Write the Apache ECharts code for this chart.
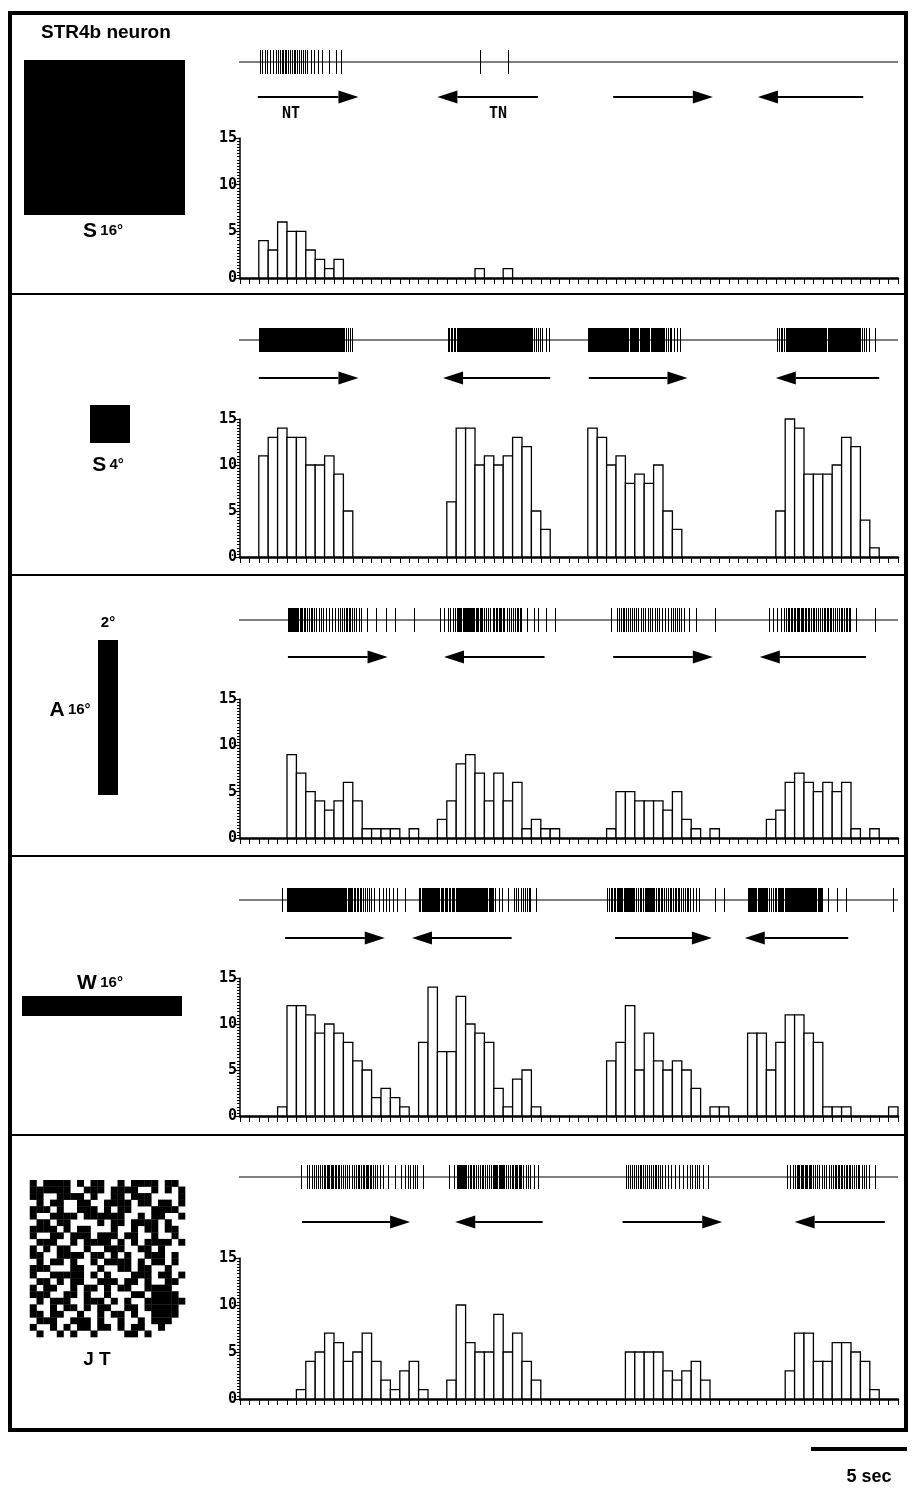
<!DOCTYPE html>
<html>
<head>
<meta charset="utf-8">
<script src="https://cdn.jsdelivr.net/npm/echarts/dist/echarts.min.js"></script>
<style>
  * { margin: 0; padding: 0; }
  body { background: #fff; }
  #main { width: 917px; height: 1488px; }
</style>
</head>
<body>
<div id="main"></div>
<script type="text/javascript">
// ---- data ----
var nBins = 70;   // PSTH bins over the whole sweep (0..69)

// spike counts per bin, one array per stimulus
var countsS16 = [
  0,0,4,3,6,5,5,3,2,1,
  2,0,0,0,0,0,0,0,0,0,
  0,0,0,0,0,1,0,0,1,0,
  0,0,0,0,0,0,0,0,0,0,
  0,0,0,0,0,0,0,0,0,0,
  0,0,0,0,0,0,0,0,0,0,
  0,0,0,0,0,0,0,0,0,0
];
var countsS4 = [
  0,0,11,13,14,13,13,10,10,11,
  9,5,0,0,0,0,0,0,0,0,
  0,0,6,14,14,10,11,10,11,13,
  12,5,3,0,0,0,0,14,13,10,
  11,8,9,8,10,5,3,0,0,0,
  0,0,0,0,0,0,0,5,15,14,
  9,9,9,10,13,12,4,1,0,0
];
var countsA16 = [
  0,0,0,0,0,9,7,5,4,3,
  4,6,4,1,1,1,1,0,1,0,
  0,2,4,8,9,7,4,7,4,6,
  1,2,1,1,0,0,0,0,0,1,
  5,5,4,4,4,3,5,2,1,0,
  1,0,0,0,0,0,2,3,6,7,
  6,5,6,5,6,1,0,1,0,0
];
var countsW16 = [
  0,0,0,0,1,12,12,11,9,10,
  9,8,6,5,2,3,2,1,0,8,
  14,7,7,13,10,9,8,3,1,4,
  5,1,0,0,0,0,0,0,0,6,
  8,12,5,9,6,5,6,5,3,0,
  1,1,0,0,9,9,5,8,11,11,
  9,8,1,1,1,0,0,0,0,1
];
var countsJT = [
  0,0,0,0,0,0,1,4,5,7,
  6,4,5,7,4,2,1,3,4,1,
  0,0,2,10,6,5,5,9,5,7,
  4,2,0,0,0,0,0,0,0,0,
  0,5,5,5,5,3,2,3,4,2,
  0,0,0,0,0,0,0,0,3,7,
  7,4,4,6,6,5,4,1,0,0
];

// stimulus sweeps [from bin, to bin] (arrow points toward "to")
var sweepsS16 = [[1.9, 12.6], [31.7, 21.0], [39.7, 50.3], [66.3, 55.1]];
var sweepsS4  = [[2.0, 12.6], [33.0, 21.6], [37.1, 47.6], [68.0, 57.0]];
var sweepsA16 = [[5.1, 15.7], [32.4, 21.7], [39.7, 50.3], [66.6, 55.3]];
var sweepsW16 = [[4.8, 15.4], [28.9, 18.3], [39.9, 50.2], [64.7, 53.7]];
var sweepsJT  = [[6.6, 18.1], [32.2, 22.9], [40.7, 51.3], [68.6, 59.0]];

var yTicks = [0, 5, 10, 15];
var traceSpan = [-0.4, 70];   // extent of the raster baseline, in bins

// ---- layout (pixels) ----
var plotLeft = 240, plotWidth = 658;
var panels = [
  {counts: countsS16, sweeps: sweepsS16, raster: 62,   arrow: 97,   top: 138,  bottom: 278},
  {counts: countsS4,  sweeps: sweepsS4,  raster: 340,  arrow: 378,  top: 419,  bottom: 557},
  {counts: countsA16, sweeps: sweepsA16, raster: 620,  arrow: 657,  top: 699,  bottom: 838},
  {counts: countsW16, sweeps: sweepsW16, raster: 900,  arrow: 938,  top: 978,  bottom: 1116},
  {counts: countsJT,  sweeps: sweepsJT,  raster: 1177, arrow: 1222, top: 1258, bottom: 1399}
];

// random-dot texture of the JT stimulus icon
var jtPattern = [
  '.#.####.#.##..#.####.##.',
  '.######..###.####..#.#.#',
  '.##..####.#..##.###....#',
  '..#.##..##..####.##.##.#',
  '.###.#..###.#.##...####.',
  '.#..####.######..#.##..#',
  '..##.##....#.##.####.#..',
  '.####.#.##...#..#.##.##.',
  '.#..##.###.###.##..#..#.',
  '..###..#.####.#.#.####.#',
  '.#.#.##..#..###..##.#...',
  '.##..####.##.#.#..###.#.',
  '..#.##.#..#.####.#.##.#.',
  '.###...##..#..##.##..#..',
  '.#..#####.#.#...###.##.#',
  '..##.#.##..###.##.#..##.',
  '.#.##..#.##.#.##..####..',
  '.###..##.#..#...##.####.',
  '..#.###..###.#.#..######',
  '.#..#.##.#.##..##.#####.',
  '.##.##..#..#.##.#..####.',
  '..###..###.#..#..#.###..',
  '.#..#.#.##.##.#.##..#...',
  '..#..#.#..#....##.#.....'
];

var chart = echarts.init(document.getElementById('main'));
var mono = 'DejaVu Sans Mono';
var sans = 'Liberation Sans';

var grids = [], xAxes = [], yAxes = [], series = [];

panels.forEach(function (p, i) {
  var g = grids.length;
  grids.push({left: plotLeft, width: plotWidth, top: p.raster - 12, height: 24});
  grids.push({left: plotLeft, width: plotWidth, top: p.arrow - 7, height: 14});
  grids.push({left: plotLeft, width: plotWidth, top: p.top, height: p.bottom - p.top});

  // hidden axes for raster and arrows
  for (var k = 0; k < 2; k++) {
    xAxes.push({gridIndex: g + k, type: 'value', min: 0, max: nBins, show: false});
    yAxes.push({gridIndex: g + k, type: 'value', min: 0, max: 1, show: false});
  }
  // histogram axes
  xAxes.push({
    gridIndex: g + 2, type: 'value', min: 0, max: nBins, interval: 1,
    axisLine: {show: true, onZero: false, lineStyle: {color: '#000', width: 2.5}},
    axisTick: {show: true, length: 6, lineStyle: {color: '#000', width: 1}},
    axisLabel: {show: false},
    splitLine: {show: false}
  });
  yAxes.push({
    gridIndex: g + 2, type: 'value', min: 0, max: yTicks[yTicks.length - 1], interval: 5,
    axisLine: {show: true, lineStyle: {color: '#000', width: 1.5}},
    axisTick: {show: true, length: 5, lineStyle: {color: '#000', width: 1.2}},
    minorTick: {show: true, splitNumber: 15, length: 3, lineStyle: {color: '#000', width: 1}},
    axisLabel: {color: '#000', fontFamily: mono, fontWeight: 'bold', fontSize: 15, margin: 3},
    splitLine: {show: false}
  });

  // raster baseline
  series.push({
    type: 'line', xAxisIndex: g, yAxisIndex: g, symbol: 'none', silent: true,
    lineStyle: {color: '#000', width: 1},
    data: [[traceSpan[0], 0.5], [traceSpan[1], 0.5]]
  });
  // raster spikes, one tick per counted spike inside its bin (snapped to pixels)
  series.push({
    type: 'custom', xAxisIndex: g, yAxisIndex: g, silent: true,
    data: p.counts.map(function (c, b) { return [b, c]; }),
    renderItem: function (params, api) {
      var b = api.value(0), c = api.value(1), kids = [];
      for (var s = 0; s < c; s++) {
        var x = b + (s + 0.5) / c;
        var p0 = api.coord([x, 0]), p1 = api.coord([x, 1]);
        var px = Math.round(p0[0]) + 0.5;
        kids.push({type: 'line', shape: {x1: px, y1: p0[1], x2: px, y2: p1[1]},
                   style: {stroke: '#000', lineWidth: 1}});
      }
      return {type: 'group', children: kids};
    }
  });
  // stimulus sweep arrows
  series.push({
    type: 'custom', xAxisIndex: g + 1, yAxisIndex: g + 1, silent: true,
    data: p.sweeps,
    renderItem: function (params, api) {
      var a = api.coord([api.value(0), 0.5]), b = api.coord([api.value(1), 0.5]);
      var dir = b[0] > a[0] ? 1 : -1, head = 20, hw = 6.5;
      return {type: 'group', children: [
        {type: 'line', shape: {x1: a[0], y1: a[1], x2: b[0] - dir * head, y2: b[1]},
         style: {stroke: '#000', lineWidth: 2}},
        {type: 'polygon', shape: {points: [[b[0], b[1]], [b[0] - dir * head, b[1] - hw], [b[0] - dir * head, b[1] + hw]]},
         style: {fill: '#000'}}
      ]};
    }
  });
  // PSTH bars
  series.push({
    type: 'custom', xAxisIndex: g + 2, yAxisIndex: g + 2, silent: true,
    data: p.counts.map(function (c, b) { return [b, c]; }).filter(function (d) { return d[1] > 0; }),
    renderItem: function (params, api) {
      var p0 = api.coord([api.value(0), api.value(1)]);
      var p1 = api.coord([api.value(0) + 1, 0]);
      return {type: 'rect', shape: {x: p0[0], y: p0[1], width: p1[0] - p0[0], height: p1[1] - p0[1]},
              style: {fill: '#fff', stroke: '#000', lineWidth: 1.3}};
    }
  });
});

// stimulus icons, frame, labels
var graphics = [
  {type: 'rect', shape: {x: 10, y: 13, width: 896, height: 1417}, style: {fill: 'none', stroke: '#000', lineWidth: 4}},
  {type: 'text', left: 41, top: 23, style: {text: 'STR4b neuron', font: 'bold 19px "' + sans + '"', fill: '#000'}},
  {type: 'rect', shape: {x: 24, y: 60, width: 161, height: 155}, style: {fill: '#000'}},
  {type: 'text', x: 103, y: 231, style: {text: '{a|S} {b|16°}', align: 'center', verticalAlign: 'middle',
    rich: {a: {font: 'bold 21px "' + sans + '"', fill: '#000'}, b: {font: 'bold 15px "' + sans + '"', fill: '#000'}}}},
  {type: 'rect', shape: {x: 90, y: 405, width: 40, height: 38}, style: {fill: '#000'}},
  {type: 'text', x: 108, y: 465, style: {text: '{a|S} {b|4°}', align: 'center', verticalAlign: 'middle',
    rich: {a: {font: 'bold 21px "' + sans + '"', fill: '#000'}, b: {font: 'bold 15px "' + sans + '"', fill: '#000'}}}},
  {type: 'text', x: 108, y: 623, style: {text: '2°', align: 'center', verticalAlign: 'middle', font: 'bold 15px "' + sans + '"', fill: '#000'}},
  {type: 'rect', shape: {x: 98, y: 640, width: 20, height: 155}, style: {fill: '#000'}},
  {type: 'text', x: 70, y: 710, style: {text: '{a|A} {b|16°}', align: 'center', verticalAlign: 'middle',
    rich: {a: {font: 'bold 21px "' + sans + '"', fill: '#000'}, b: {font: 'bold 15px "' + sans + '"', fill: '#000'}}}},
  {type: 'text', x: 100, y: 983, style: {text: '{a|W} {b|16°}', align: 'center', verticalAlign: 'middle',
    rich: {a: {font: 'bold 21px "' + sans + '"', fill: '#000'}, b: {font: 'bold 15px "' + sans + '"', fill: '#000'}}}},
  {type: 'rect', shape: {x: 22, y: 996, width: 160, height: 20}, style: {fill: '#000'}},
  {type: 'text', x: 97, y: 1360, style: {text: 'J T', align: 'center', verticalAlign: 'middle', font: 'bold 19px "' + sans + '"', fill: '#000'}},
  {type: 'text', x: 291, y: 114, style: {text: 'NT', align: 'center', verticalAlign: 'middle', font: 'bold 15px "' + mono + '"', fill: '#000'}},
  {type: 'text', x: 498, y: 114, style: {text: 'TN', align: 'center', verticalAlign: 'middle', font: 'bold 15px "' + mono + '"', fill: '#000'}},
  {type: 'rect', shape: {x: 811, y: 1447, width: 96, height: 4}, style: {fill: '#000'}},
  {type: 'text', x: 869, y: 1477, style: {text: '5 sec', align: 'center', verticalAlign: 'middle', font: 'bold 18px "' + sans + '"', fill: '#000'}}
];
[294, 575, 856, 1135].forEach(function (y) {
  graphics.push({type: 'line', shape: {x1: 10, y1: y, x2: 906, y2: y}, style: {stroke: '#000', lineWidth: 2}});
});
var jtX = 23, jtY = 1180, jtW = 162, jtH = 157;
var cw = jtW / jtPattern[0].length, ch = jtH / jtPattern.length;
jtPattern.forEach(function (row, r) {
  for (var c = 0; c < row.length; c++) {
    if (row[c] === '#') {
      graphics.push({type: 'rect', shape: {x: jtX + c * cw, y: jtY + r * ch, width: cw + 0.3, height: ch + 0.3}, style: {fill: '#000'}});
    }
  }
});

chart.setOption({
  backgroundColor: '#fff',
  animation: false,
  grid: grids,
  xAxis: xAxes,
  yAxis: yAxes,
  series: series,
  graphic: graphics
});
</script>
</body>
</html>
